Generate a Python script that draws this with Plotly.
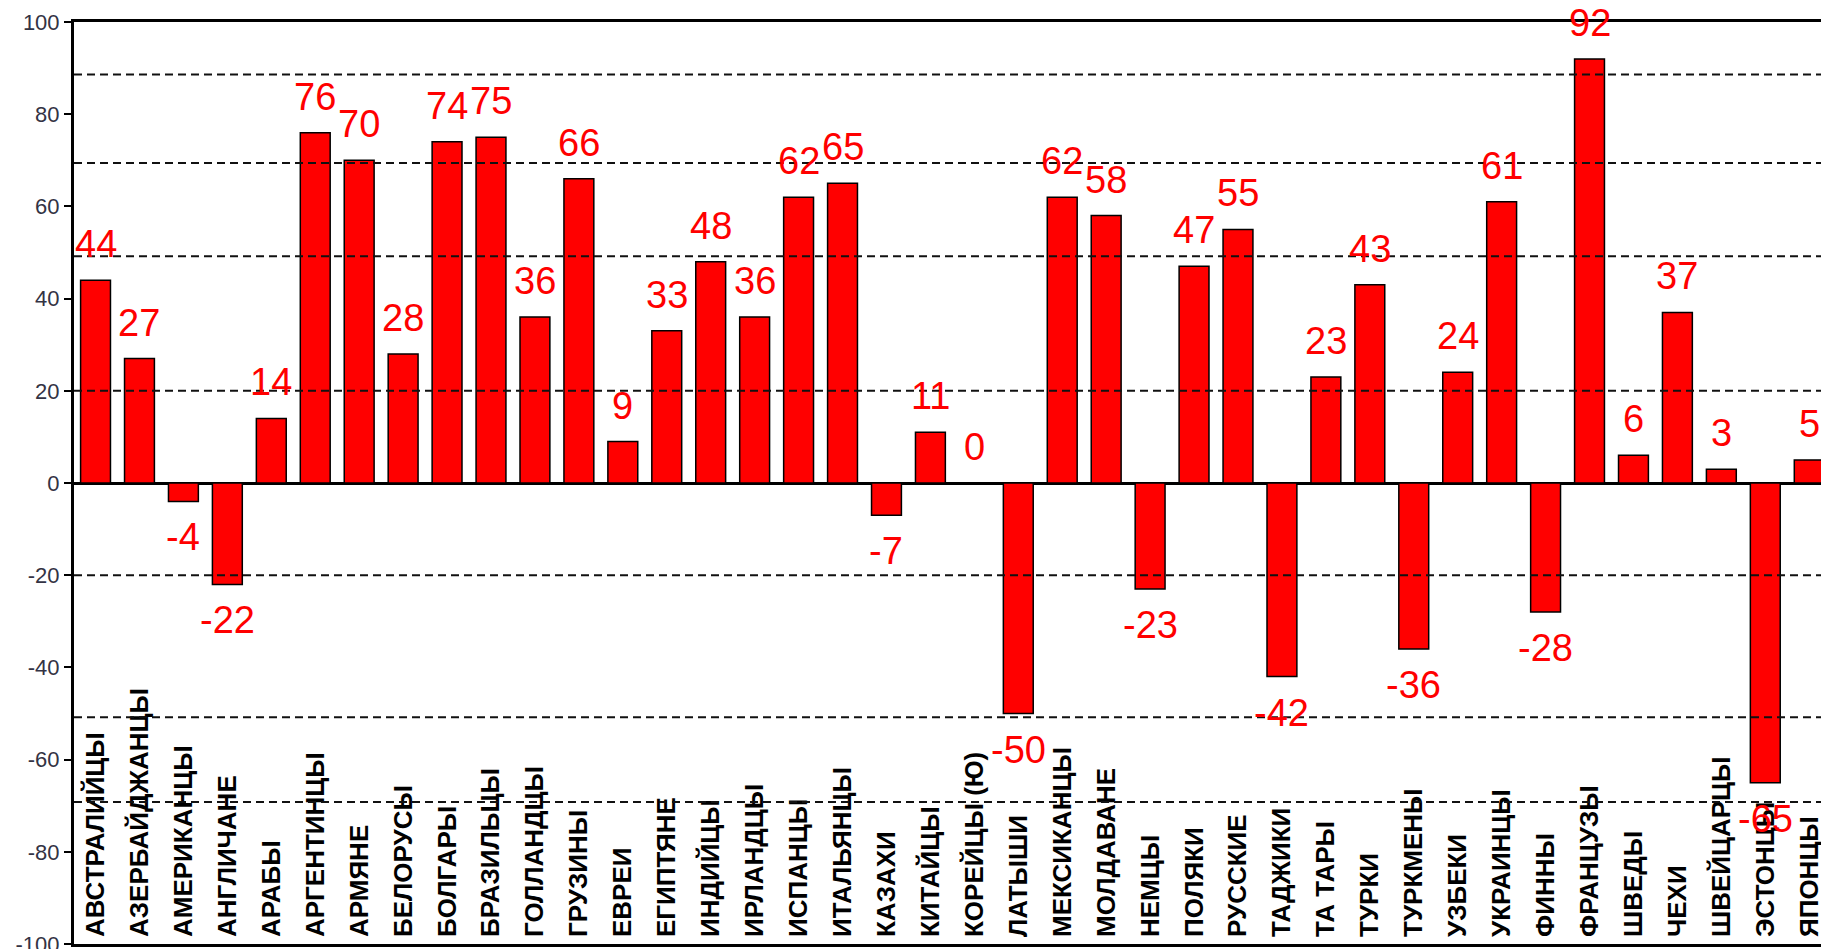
import plotly.graph_objects as go

categories = ["АВСТРАЛИЙЦЫ", "АЗЕРБАЙДЖАНЦЫ", "АМЕРИКАНЦЫ", "АНГЛИЧАНЕ", "АРАБЫ",
              "АРГЕНТИНЦЫ", "АРМЯНЕ", "БЕЛОРУСЫ", "БОЛГАРЫ", "БРАЗИЛЬЦЫ",
              "ГОЛЛАНДЦЫ", "ГРУЗИНЫ", "ЕВРЕИ", "ЕГИПТЯНЕ", "ИНДИЙЦЫ",
              "ИРЛАНДЦЫ", "ИСПАНЦЫ", "ИТАЛЬЯНЦЫ", "КАЗАХИ", "КИТАЙЦЫ",
              "КОРЕЙЦЫ (Ю)", "ЛАТЫШИ", "МЕКСИКАНЦЫ", "МОЛДАВАНЕ", "НЕМЦЫ",
              "ПОЛЯКИ", "РУССКИЕ", "ТАДЖИКИ", "ТА ТАРЫ", "ТУРКИ",
              "ТУРКМЕНЫ", "УЗБЕКИ", "УКРАИНЦЫ", "ФИННЫ", "ФРАНЦУЗЫ",
              "ШВЕДЫ", "ЧЕХИ", "ШВЕЙЦАРЦЫ", "ЭСТОНЦЫ", "ЯПОНЦЫ"]

values = [44, 27, -4, -22, 14, 76, 70, 28, 74, 75,
          36, 66, 9, 33, 48, 36, 62, 65, -7, 11,
          0, -50, 62, 58, -23, 47, 55, -42, 23, 43,
          -36, 24, 61, -28, 92, 6, 37, 3, -65, 5]

# dashed reference lines as drawn in the original chart (value units)
guide_lines = [88.6, 69.4, 49.2, 20, -20, -50.8, -69.2]

y_ticks = [-100, -80, -60, -40, -20, 0, 20, 40, 60, 80, 100]

FONT = "Arial, 'Liberation Sans', sans-serif"
X_RANGE = [-0.49, 39.45]

fig = go.Figure()
fig.add_trace(go.Bar(
    x=categories, y=values,
    marker=dict(color="#FF0000", line=dict(color="#000000", width=1.5)),
    width=0.68,
    hoverinfo="x+y",
))
# invisible twin trace that carries the category labels drawn inside the plot
fig.add_trace(go.Bar(
    x=categories, y=values, xaxis="x2",
    marker=dict(color="rgba(0,0,0,0)", line=dict(width=0)),
    width=0.68, hoverinfo="skip", showlegend=False,
))

annotations = []
for c, v in zip(categories, values):
    annotations.append(dict(
        x=c, y=v, xref="x", yref="y", text=str(v), showarrow=False,
        font=dict(family=FONT, size=38, color="#FF0000"),
        yshift=36 if v >= 0 else -36,
        xanchor="center", yanchor="middle",
    ))

shapes = []
for g in guide_lines:
    shapes.append(dict(
        type="line", xref="x domain", yref="y", x0=0, x1=1, y0=g, y1=g,
        line=dict(color="#111111", width=2, dash="8px,5px"), layer="above",
    ))

fig.update_layout(
    width=1821, height=949,
    margin=dict(l=66, r=0, t=14, b=10),
    paper_bgcolor="white", plot_bgcolor="white",
    showlegend=False,
    annotations=annotations,
    shapes=shapes,
    xaxis=dict(
        type="category",
        categoryorder="array", categoryarray=categories,
        range=X_RANGE,
        showline=True, mirror=True, linecolor="#000000", linewidth=3,
        showgrid=False, zeroline=False, ticks="",
        showticklabels=False,
    ),
    xaxis2=dict(
        type="category",
        categoryorder="array", categoryarray=categories,
        range=X_RANGE,
        overlaying="x", anchor="free", position=0, side="top",
        showline=False, showgrid=False, zeroline=False, ticks="",
        tickangle=-90,
        ticklabelstandoff=7,
        tickfont=dict(family=FONT, size=26, color="#000000", weight="bold"),
    ),
    yaxis=dict(
        range=[-100, 100],
        tickmode="array", tickvals=y_ticks, ticktext=[str(t) for t in y_ticks],
        showline=True, linecolor="#000000", linewidth=3,
        ticks="outside", ticklen=7, tickwidth=2, tickcolor="#000000",
        showgrid=False,
        zeroline=True, zerolinecolor="#000000", zerolinewidth=3,
        layer="above traces",
        ticklabeloverflow="allow",
        tickfont=dict(family=FONT, size=22, color="#333344"),
    ),
)

fig.write_html("out.html")
